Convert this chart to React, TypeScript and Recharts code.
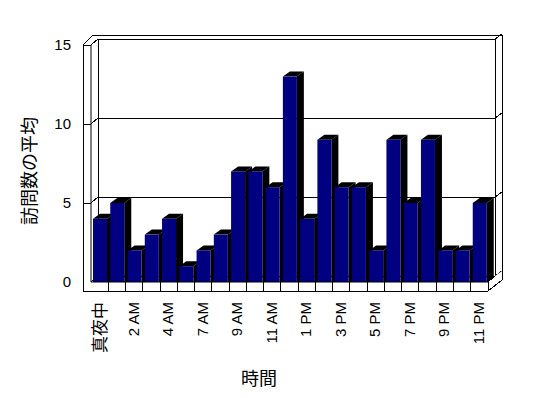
import { Bar, BarChart, CartesianGrid, XAxis, YAxis } from "recharts"

// hours on the x axis (one hour is missing in the source data)
const hours = [
  "真夜中", "1 AM", "2 AM", "3 AM", "4 AM", "5 AM", "7 AM", "8 AM", "9 AM", "10 AM", "11 AM", "正午",
  "1 PM", "2 PM", "3 PM", "4 PM", "5 PM", "6 PM", "7 PM", "8 PM", "9 PM", "10 PM", "11 PM",
]
const avgVisits = [4, 5, 2, 3, 4, 1, 2, 3, 7, 7, 6, 13, 4, 9, 6, 6, 2, 9, 5, 9, 2, 2, 5]
const yTicks = [0, 5, 10, 15]

const data = hours.map((name, i) => ({ name, visits: avgVisits[i] }))

const W = 548
const H = 398
const LEFT = 91
const RIGHT = 488
const TOP = 45
const BOTTOM = 282
const BAND = (RIGHT - LEFT) / hours.length
const DX = 7 // depth of walls
const DY = 6
const FLOOR = 9
const FONT = '"Liberation Sans", "Noto Sans CJK JP", sans-serif'
const CJK = '"Noto Sans CJK JP", sans-serif'

function Bar3D(props: any) {
  const { x, y, width, height } = props
  const dx = 7
  const dy = 5
  const base = y + height
  return (
    <g>
      <polygon
        points={`${x + width},${y} ${x + width + dx},${y - dy} ${x + width + dx},${base} ${x + width},${base}`}
        fill="#000"
      />
      <polygon points={`${x},${y} ${x + dx},${y - dy} ${x + width + dx},${y - dy} ${x + width},${y}`} fill="#000" />
      <rect x={x} y={y} width={width} height={height} fill="#000080" />
    </g>
  )
}

// grid line on the back wall + the bits on the left wall
function WallLine(props: any) {
  const { x1, x2, y1 } = props
  const y = y1
  const by = y - DY
  const isBase = Math.abs(y - BOTTOM) < 1
  return (
    <g stroke="#000" strokeWidth={1} shapeRendering="crispEdges">
      {!isBase && <line x1={x1 - 8} y1={y} x2={x1} y2={y} />}
      <line x1={x1} y1={y} x2={x1 + DX} y2={by} />
      <line x1={x1 + DX} y1={by} x2={x2 + DX} y2={by} />
      <line x1={x2 + DX} y1={by} x2={x2 + 2 * DX} y2={by - 5} />
    </g>
  )
}

function HourTick(props: any) {
  const { x, y, payload, index } = props
  const edge = x + BAND / 2
  const ty = y + 20
  const wide = /[^\x00-\x7F]/.test(payload.value)
  return (
    <g>
      <line x1={edge} y1={y} x2={edge} y2={y + FLOOR} stroke="#000" shapeRendering="crispEdges" />
      {index % 2 === 0 && (
        <text
          x={x - 1}
          y={ty}
          transform={`rotate(-90, ${x - 1}, ${ty})`}
          textAnchor="end"
          dominantBaseline="central"
          fontSize={wide ? 17 : 15}
          fontFamily={wide ? CJK : FONT}
          fill="#000"
        >
          {payload.value}
        </text>
      )}
    </g>
  )
}

export default function App() {
  const line = { stroke: "#000", strokeWidth: 1, shapeRendering: "crispEdges" as const }
  return (
    <div style={{ position: "absolute", left: 0, top: 0, width: W, height: H, background: "#fff" }}>
      <svg width={W} height={H} style={{ position: "absolute", left: 0, top: 0 }}>
        {/* left wall strip */}
        <line x1={LEFT - 8} y1={TOP} x2={LEFT - 8} y2={BOTTOM + FLOOR} {...line} />
        <line x1={LEFT - 8} y1={TOP} x2={LEFT + 2} y2={TOP - 10} {...line} />
        {/* top of back wall */}
        <line x1={LEFT + 2} y1={TOP - 10} x2={RIGHT + 2 * DX} y2={TOP - 10} {...line} />
        <line x1={RIGHT + 2 * DX} y1={TOP - 10} x2={RIGHT + 2 * DX} y2={BOTTOM - 2} {...line} />
        <line x1={LEFT + DX} y1={TOP - DY} x2={LEFT + DX} y2={BOTTOM - DY} {...line} />
        <line x1={RIGHT + DX} y1={TOP - DY} x2={RIGHT + DX} y2={BOTTOM - DY} {...line} />
        {/* floor front */}
        <line x1={LEFT - 8} y1={BOTTOM + FLOOR} x2={RIGHT} y2={BOTTOM + FLOOR} {...line} />
      </svg>
      <div style={{ position: "absolute", left: 0, top: 0 }}>
        <BarChart
          width={W}
          height={H}
          data={data}
          barSize={14}
          margin={{ top: TOP, right: W - RIGHT, bottom: 0, left: 0 }}
        >
          <CartesianGrid horizontal={WallLine} vertical={false} />
          <XAxis
            dataKey="name"
            height={H - BOTTOM}
            interval={0}
            tickLine={false}
            tickSize={0}
            tickMargin={0}
            axisLine={{ stroke: "#000" }}
            tick={HourTick}
            label={{
              content: () => (
                <text x={259} y={377} textAnchor="middle" dominantBaseline="central" fontSize={18} fontFamily={CJK} fill="#000">
                  時間
                </text>
              ),
            }}
          />
          <YAxis
            width={LEFT}
            domain={[0, 15]}
            ticks={yTicks}
            tickLine={false}
            tickSize={8}
            tickMargin={12}
            axisLine={{ stroke: "#000" }}
            tick={{ fill: "#000", fontSize: 15, fontFamily: FONT }}
            label={{
              content: () => (
                <text
                  x={28}
                  y={171}
                  transform="rotate(-90, 28, 171)"
                  textAnchor="middle"
                  dominantBaseline="central"
                  fontSize={18}
                  fontFamily={CJK}
                  fill="#000"
                >
                  訪問数の平均
                </text>
              ),
            }}
          />
          <Bar dataKey="visits" shape={Bar3D} isAnimationActive={false} />
        </BarChart>
      </div>
      <svg width={W} height={H} style={{ position: "absolute", left: 0, top: 0, pointerEvents: "none" }}>
        {/* right side of the floor */}
        <polygon
          points={`${RIGHT},${BOTTOM} ${RIGHT + DX},${BOTTOM - DY} ${RIGHT + 2 * DX},${BOTTOM - 11} ${RIGHT + 2 * DX},${BOTTOM - 2} ${RIGHT},${BOTTOM + FLOOR}`}
          fill="#fff"
        />
        <line x1={RIGHT} y1={BOTTOM} x2={RIGHT + DX} y2={BOTTOM - DY} {...line} />
        <line x1={RIGHT} y1={BOTTOM + FLOOR} x2={RIGHT + 2 * DX} y2={BOTTOM - 2} {...line} />
        <line x1={RIGHT} y1={BOTTOM} x2={RIGHT} y2={BOTTOM + FLOOR} {...line} />
      </svg>
    </div>
  )
}
